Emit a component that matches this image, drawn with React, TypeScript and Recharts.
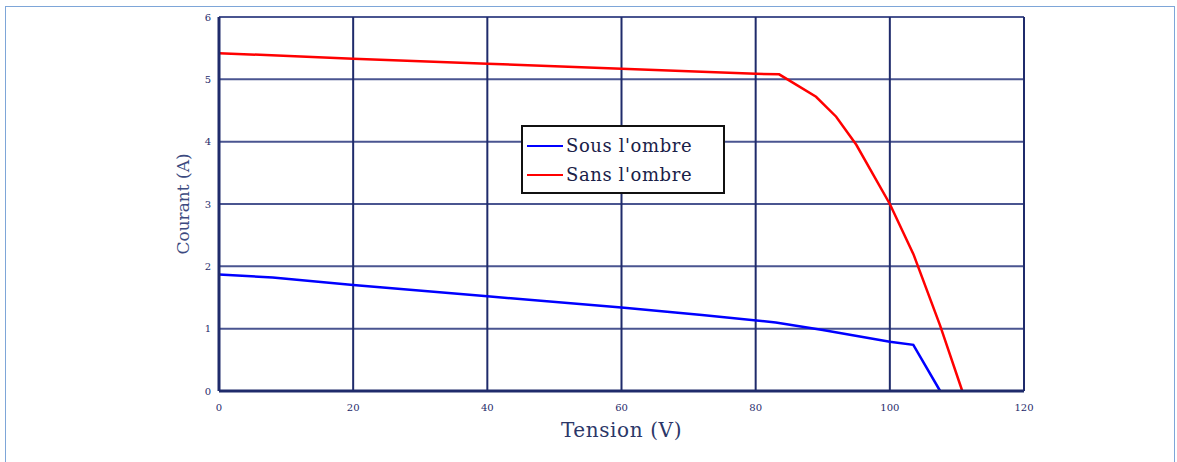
import React from "react";
import {
  LineChart,
  Line,
  XAxis,
  YAxis,
  CartesianGrid,
  Label,
} from "recharts";

// I-V curves of the PV panel, voltage (V) vs current (A)
const shadedCurve = [
  { v: 0, i: 1.87 },
  { v: 8, i: 1.82 },
  { v: 20, i: 1.7 },
  { v: 40, i: 1.52 },
  { v: 60, i: 1.34 },
  { v: 72, i: 1.22 },
  { v: 83, i: 1.1 },
  { v: 90, i: 0.98 },
  { v: 100, i: 0.79 },
  { v: 103.5, i: 0.74 },
  { v: 107.5, i: 0 },
];

const unshadedCurve = [
  { v: 0, i: 5.42 },
  { v: 20, i: 5.33 },
  { v: 40, i: 5.25 },
  { v: 60, i: 5.17 },
  { v: 80, i: 5.09 },
  { v: 83.5, i: 5.08 },
  { v: 89, i: 4.72 },
  { v: 92, i: 4.4 },
  { v: 95, i: 3.95 },
  { v: 100, i: 3.0 },
  { v: 103.5, i: 2.2 },
  { v: 107.5, i: 1.05 },
  { v: 110.8, i: 0 },
];

const xTicks = [0, 20, 40, 60, 80, 100, 120];
const yTicks = [0, 1, 2, 3, 4, 5, 6];

const seriesNames = ["Sous l'ombre", "Sans l'ombre"];
const seriesColors = ["#0000ff", "#ff0000"];

const NAVY = "#1f2b6b";
const FONT = "'DejaVu Serif', 'Liberation Serif', serif";

const LegendBox = () => (
  <div
    style={{
      position: "absolute",
      left: 521,
      top: 125,
      border: "2px solid #111",
      background: "#fff",
      padding: "4px 4px",
      width: 204,
      boxSizing: "border-box",
      height: 69,
      fontFamily: FONT,
      fontSize: 18,
      letterSpacing: 0.6,
      color: "#1a2148",
      lineHeight: "29px",
      whiteSpace: "nowrap",
    }}
  >
    {seriesNames.map((name, idx) => (
      <div key={name} style={{ display: "flex", alignItems: "center" }}>
        <span
          style={{
            display: "inline-block",
            width: 36,
            height: 2,
            background: seriesColors[idx],
            marginRight: 3,
          }}
        />
        <span>{name}</span>
      </div>
    ))}
  </div>
);

export default function App() {
  return (
    <div
      style={{
        position: "fixed",
        left: 0,
        top: 0,
        width: 1177,
        height: 462,
        background: "#fff",
      }}
    >
      <div
        style={{
          position: "absolute",
          left: 5,
          top: 6,
          width: 1170,
          height: 470,
          border: "1.5px solid #7ea6d8",
          boxSizing: "border-box",
        }}
      />
      <LineChart
        width={1177}
        height={462}
        margin={{ top: 17, right: 153, bottom: 41, left: 179 }}
        style={{ position: "absolute", left: 0, top: 0 }}
      >
        <CartesianGrid horizontal={true} vertical={false} stroke="#4a5590" strokeWidth={2} />
        <CartesianGrid horizontal={false} vertical={true} stroke={NAVY} strokeWidth={2} />
        <XAxis
          type="number"
          dataKey="v"
          domain={[0, 120]}
          ticks={xTicks}
          height={30}
          axisLine={{ stroke: NAVY, strokeWidth: 3 }}
          tickLine={false}
          tick={{ fill: NAVY, fontSize: 10, fontFamily: FONT }}
          tickMargin={7}
        >
          <Label
            value="Tension (V)"
            position="bottom"
            offset={2}
            style={{ fill: "#2b3768", fontSize: 20, fontFamily: FONT, letterSpacing: 0.6 }}
          />
        </XAxis>
        <YAxis
          type="number"
          domain={[0, 6]}
          ticks={yTicks}
          width={40}
          axisLine={{ stroke: NAVY, strokeWidth: 3 }}
          tickLine={false}
          tick={{ fill: NAVY, fontSize: 10, fontFamily: FONT }}
          tickMargin={2}
        >
          <Label
            value="Courant (A)"
            angle={-90}
            position="insideLeft"
            offset={4}
            style={{ fill: "#3c4a80", fontSize: 17, fontFamily: FONT, textAnchor: "middle" }}
          />
        </YAxis>
        <Line
          data={shadedCurve}
          dataKey="i"
          name={seriesNames[0]}
          type="linear"
          stroke={seriesColors[0]}
          strokeWidth={2.5}
          dot={false}
          isAnimationActive={false}
        />
        <Line
          data={unshadedCurve}
          dataKey="i"
          name={seriesNames[1]}
          type="linear"
          stroke={seriesColors[1]}
          strokeWidth={2.5}
          dot={false}
          isAnimationActive={false}
        />
      </LineChart>
      <LegendBox />
    </div>
  );
}
